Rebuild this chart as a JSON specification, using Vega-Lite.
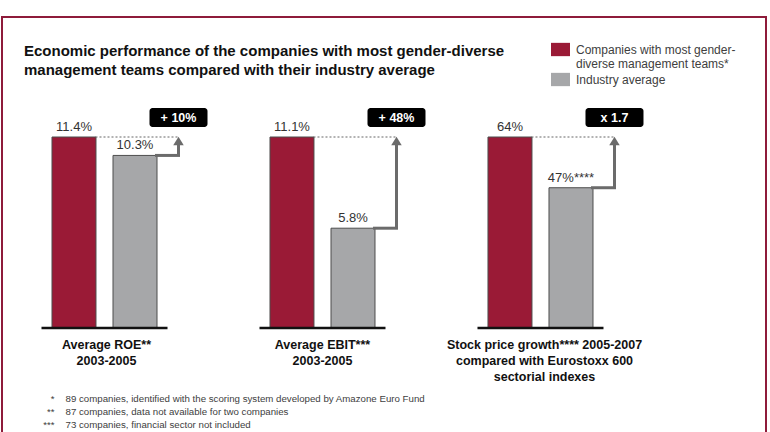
{
  "$schema": "https://vega.github.io/schema/vega-lite/v6.json",
  "width": 770,
  "height": 432,
  "autosize": {"type": "fit", "contains": "padding"},
  "padding": {"left": 2, "top": 17, "right": 4, "bottom": -6},
  "background": "white",
  "config": {
    "view": {"stroke": "#8e1b3a", "strokeWidth": 2},
    "font": "Liberation Sans",
    "text": {"font": "Liberation Sans"}
  },
  "title": {
    "text": ["Economic performance of the companies with most gender-diverse", "management teams compared with their industry average"],
    "anchor": "start",
    "frame": "group",
    "orient": "top",
    "offset": -61,
    "baseline": "top",
    "dx": 22,
    "fontSize": 15,
    "fontWeight": "bold",
    "color": "#111111",
    "font": "Liberation Sans",
    "lineHeight": 19
  },
  "data": {
    "values": [
      {"panel": "ROE", "kind": "bar", "series": "Companies with most gender-diverse management teams*", "value": 11.4, "label": "11.4%"},
      {"panel": "ROE", "kind": "bar", "series": "Industry average", "value": 10.3, "label": "10.3%"},
      {"panel": "EBIT", "kind": "bar", "series": "Companies with most gender-diverse management teams*", "value": 11.1, "label": "11.1%"},
      {"panel": "EBIT", "kind": "bar", "series": "Industry average", "value": 5.8, "label": "5.8%"},
      {"panel": "Stock", "kind": "bar", "series": "Companies with most gender-diverse management teams*", "value": 64, "label": "64%"},
      {"panel": "Stock", "kind": "bar", "series": "Industry average", "value": 47, "label": "47%****"},
      {"panel": "ROE", "kind": "gap", "company": 11.4, "industry": 10.3, "badge": "+ 10%", "caption": "Average ROE**\n2003-2005"},
      {"panel": "EBIT", "kind": "gap", "company": 11.1, "industry": 5.8, "badge": "+ 48%", "caption": "Average EBIT***\n2003-2005"},
      {"panel": "Stock", "kind": "gap", "company": 64, "industry": 47, "badge": "x 1.7", "caption": "Stock price growth**** 2005-2007\ncompared with Eurostoxx 600\nsectorial indexes"}
    ]
  },
  "layer": [
    {
      "transform": [{"filter": "datum.panel == 'ROE'"}],
      "layer": [
        {
          "transform": [{"filter": "datum.kind == 'bar'"}],
          "mark": {"type": "bar", "stroke": "#4d4d4d", "strokeWidth": 1},
          "encoding": {
            "x": {"field": "panel", "type": "nominal", "axis": null, "scale": {"domain": ["ROE", "EBIT", "Stock"], "paddingInner": 0.5183, "paddingOuter": 0.5115, "align": 0.2242}},
            "xOffset": {"field": "series", "type": "nominal", "scale": {"domain": ["Companies with most gender-diverse management teams*", "Industry average"], "paddingInner": 0.279, "paddingOuter": 0}},
            "y": {"field": "value", "type": "quantitative", "axis": null, "scale": {"range": [311, 120], "nice": false, "zero": true}},
            "color": {
              "field": "series", "type": "nominal",
              "scale": {"domain": ["Companies with most gender-diverse management teams*", "Industry average"], "range": ["#9a1a36", "#a6a7a9"]},
              "legend": {
                "orient": "none", "legendX": 549, "legendY": 23, "title": null,
                "symbolType": "M-1,-0.7L1,-0.7L1,0.7L-1,0.7Z", "symbolSize": 361,
                "symbolStrokeWidth": 0, "symbolOpacity": 1,
                "labelFontSize": 12, "labelFont": "Liberation Sans", "labelColor": "#404040",
                "labelExpr": "datum.label == 'Industry average' ? datum.label : ['Companies with most gender-', 'diverse management teams*']",
                "labelOffset": 6, "rowPadding": -6, "labelLimit": 300
              }
            }
          }
        },
        {
          "transform": [{"filter": "datum.kind == 'bar'"}],
          "mark": {"type": "text", "fontSize": 13, "color": "#333333", "baseline": "alphabetic", "yOffset": -6},
          "encoding": {
            "x": {"field": "panel", "type": "nominal", "axis": null, "scale": {"domain": ["ROE", "EBIT", "Stock"], "paddingInner": 0.5183, "paddingOuter": 0.5115, "align": 0.2242}},
            "xOffset": {"field": "series", "type": "nominal", "scale": {"domain": ["Companies with most gender-diverse management teams*", "Industry average"], "paddingInner": 0.279, "paddingOuter": 0}},
            "y": {"field": "value", "type": "quantitative"},
            "text": {"field": "label"}
          }
        },
        {
          "transform": [{"filter": "datum.kind == 'gap'"}],
          "encoding": {
            "x": {"field": "panel", "type": "nominal", "axis": null, "bandPosition": 0.5, "scale": {"domain": ["ROE", "EBIT", "Stock"], "paddingInner": 0.5183, "paddingOuter": 0.5115, "align": 0.2242}}
          },
          "layer": [
            {"mark": {"type": "rule", "color": "#111111", "strokeWidth": 2.5, "xOffset": -63, "x2Offset": 63}, "encoding": {"x2": {"field": "panel"}, "y": {"datum": 0, "type": "quantitative"}}},
            {"mark": {"type": "rule", "color": "#666666", "strokeWidth": 1, "strokeDash": [2, 2], "xOffset": -9, "x2Offset": 74}, "encoding": {"x2": {"field": "panel"}, "y": {"field": "company", "type": "quantitative"}}},
            {"mark": {"type": "rule", "color": "#6b6b6b", "strokeWidth": 3, "xOffset": 52, "x2Offset": 74, "strokeCap": "square"}, "encoding": {"x2": {"field": "panel"}, "y": {"field": "industry", "type": "quantitative"}}},
            {"mark": {"type": "rule", "color": "#6b6b6b", "strokeWidth": 3, "xOffset": 74, "y2Offset": 6}, "encoding": {"y": {"field": "industry", "type": "quantitative"}, "y2": {"field": "company"}}},
            {"mark": {"type": "point", "shape": "M0,-1L1,0.6L-1,0.6Z", "filled": true, "opacity": 1, "color": "#6b6b6b", "size": 110, "xOffset": 74, "yOffset": 5}, "encoding": {"y": {"field": "company", "type": "quantitative"}}},
            {"mark": {"type": "rect", "color": "#000000", "cornerRadius": 3, "xOffset": 45, "x2Offset": 103, "yOffset": -29, "y2Offset": -10}, "encoding": {"x2": {"field": "panel"}, "y": {"field": "company", "type": "quantitative"}, "y2": {"field": "company"}}},
            {"mark": {"type": "text", "color": "white", "fontWeight": "bold", "fontSize": 12.5, "baseline": "middle", "xOffset": 74, "yOffset": -19.5}, "encoding": {"y": {"field": "company", "type": "quantitative"}, "text": {"field": "badge"}}},
            {"mark": {"type": "text", "color": "#111111", "fontWeight": "bold", "fontSize": 12.5, "baseline": "top", "lineBreak": "\n", "lineHeight": 16, "xOffset": 2, "yOffset": 11}, "encoding": {"y": {"datum": 0, "type": "quantitative"}, "text": {"field": "caption"}}}
          ]
        }
      ]
    },
    {
      "transform": [{"filter": "datum.panel == 'EBIT'"}],
      "layer": [
        {
          "transform": [{"filter": "datum.kind == 'bar'"}],
          "mark": {"type": "bar", "stroke": "#4d4d4d", "strokeWidth": 1},
          "encoding": {
            "x": {"field": "panel", "type": "nominal", "axis": null, "scale": {"domain": ["ROE", "EBIT", "Stock"], "paddingInner": 0.5183, "paddingOuter": 0.5115, "align": 0.2242}},
            "xOffset": {"field": "series", "type": "nominal", "scale": {"domain": ["Companies with most gender-diverse management teams*", "Industry average"], "paddingInner": 0.279, "paddingOuter": 0}},
            "y": {"field": "value", "type": "quantitative", "axis": null, "scale": {"range": [311, 120], "nice": false, "zero": true}},
            "color": {"field": "series", "type": "nominal"}
          }
        },
        {
          "transform": [{"filter": "datum.kind == 'bar'"}],
          "mark": {"type": "text", "fontSize": 13, "color": "#333333", "baseline": "alphabetic", "yOffset": -6},
          "encoding": {
            "x": {"field": "panel", "type": "nominal", "axis": null, "scale": {"domain": ["ROE", "EBIT", "Stock"], "paddingInner": 0.5183, "paddingOuter": 0.5115, "align": 0.2242}},
            "xOffset": {"field": "series", "type": "nominal", "scale": {"domain": ["Companies with most gender-diverse management teams*", "Industry average"], "paddingInner": 0.279, "paddingOuter": 0}},
            "y": {"field": "value", "type": "quantitative"},
            "text": {"field": "label"}
          }
        },
        {
          "transform": [{"filter": "datum.kind == 'gap'"}],
          "encoding": {
            "x": {"field": "panel", "type": "nominal", "axis": null, "bandPosition": 0.5, "scale": {"domain": ["ROE", "EBIT", "Stock"], "paddingInner": 0.5183, "paddingOuter": 0.5115, "align": 0.2242}}
          },
          "layer": [
            {"mark": {"type": "rule", "color": "#111111", "strokeWidth": 2.5, "xOffset": -63, "x2Offset": 63}, "encoding": {"x2": {"field": "panel"}, "y": {"datum": 0, "type": "quantitative"}}},
            {"mark": {"type": "rule", "color": "#666666", "strokeWidth": 1, "strokeDash": [2, 2], "xOffset": -9, "x2Offset": 74}, "encoding": {"x2": {"field": "panel"}, "y": {"field": "company", "type": "quantitative"}}},
            {"mark": {"type": "rule", "color": "#6b6b6b", "strokeWidth": 3, "xOffset": 52, "x2Offset": 74, "strokeCap": "square"}, "encoding": {"x2": {"field": "panel"}, "y": {"field": "industry", "type": "quantitative"}}},
            {"mark": {"type": "rule", "color": "#6b6b6b", "strokeWidth": 3, "xOffset": 74, "y2Offset": 6}, "encoding": {"y": {"field": "industry", "type": "quantitative"}, "y2": {"field": "company"}}},
            {"mark": {"type": "point", "shape": "M0,-1L1,0.6L-1,0.6Z", "filled": true, "opacity": 1, "color": "#6b6b6b", "size": 110, "xOffset": 74, "yOffset": 5}, "encoding": {"y": {"field": "company", "type": "quantitative"}}},
            {"mark": {"type": "rect", "color": "#000000", "cornerRadius": 3, "xOffset": 45, "x2Offset": 103, "yOffset": -29, "y2Offset": -10}, "encoding": {"x2": {"field": "panel"}, "y": {"field": "company", "type": "quantitative"}, "y2": {"field": "company"}}},
            {"mark": {"type": "text", "color": "white", "fontWeight": "bold", "fontSize": 12.5, "baseline": "middle", "xOffset": 74, "yOffset": -19.5}, "encoding": {"y": {"field": "company", "type": "quantitative"}, "text": {"field": "badge"}}},
            {"mark": {"type": "text", "color": "#111111", "fontWeight": "bold", "fontSize": 12.5, "baseline": "top", "lineBreak": "\n", "lineHeight": 16, "xOffset": 0, "yOffset": 11}, "encoding": {"y": {"datum": 0, "type": "quantitative"}, "text": {"field": "caption"}}}
          ]
        }
      ]
    },
    {
      "transform": [{"filter": "datum.panel == 'Stock'"}],
      "layer": [
        {
          "transform": [{"filter": "datum.kind == 'bar'"}],
          "mark": {"type": "bar", "stroke": "#4d4d4d", "strokeWidth": 1},
          "encoding": {
            "x": {"field": "panel", "type": "nominal", "axis": null, "scale": {"domain": ["ROE", "EBIT", "Stock"], "paddingInner": 0.5183, "paddingOuter": 0.5115, "align": 0.2242}},
            "xOffset": {"field": "series", "type": "nominal", "scale": {"domain": ["Companies with most gender-diverse management teams*", "Industry average"], "paddingInner": 0.279, "paddingOuter": 0}},
            "y": {"field": "value", "type": "quantitative", "axis": null, "scale": {"range": [311, 120], "nice": false, "zero": true}},
            "color": {"field": "series", "type": "nominal"}
          }
        },
        {
          "transform": [{"filter": "datum.kind == 'bar'"}],
          "mark": {"type": "text", "fontSize": 13, "color": "#333333", "baseline": "alphabetic", "yOffset": -6},
          "encoding": {
            "x": {"field": "panel", "type": "nominal", "axis": null, "scale": {"domain": ["ROE", "EBIT", "Stock"], "paddingInner": 0.5183, "paddingOuter": 0.5115, "align": 0.2242}},
            "xOffset": {"field": "series", "type": "nominal", "scale": {"domain": ["Companies with most gender-diverse management teams*", "Industry average"], "paddingInner": 0.279, "paddingOuter": 0}},
            "y": {"field": "value", "type": "quantitative"},
            "text": {"field": "label"}
          }
        },
        {
          "transform": [{"filter": "datum.kind == 'gap'"}],
          "encoding": {
            "x": {"field": "panel", "type": "nominal", "axis": null, "bandPosition": 0.5, "scale": {"domain": ["ROE", "EBIT", "Stock"], "paddingInner": 0.5183, "paddingOuter": 0.5115, "align": 0.2242}}
          },
          "layer": [
            {"mark": {"type": "rule", "color": "#111111", "strokeWidth": 2.5, "xOffset": -63, "x2Offset": 63}, "encoding": {"x2": {"field": "panel"}, "y": {"datum": 0, "type": "quantitative"}}},
            {"mark": {"type": "rule", "color": "#666666", "strokeWidth": 1, "strokeDash": [2, 2], "xOffset": -9, "x2Offset": 74}, "encoding": {"x2": {"field": "panel"}, "y": {"field": "company", "type": "quantitative"}}},
            {"mark": {"type": "rule", "color": "#6b6b6b", "strokeWidth": 3, "xOffset": 52, "x2Offset": 74, "strokeCap": "square"}, "encoding": {"x2": {"field": "panel"}, "y": {"field": "industry", "type": "quantitative"}}},
            {"mark": {"type": "rule", "color": "#6b6b6b", "strokeWidth": 3, "xOffset": 74, "y2Offset": 6}, "encoding": {"y": {"field": "industry", "type": "quantitative"}, "y2": {"field": "company"}}},
            {"mark": {"type": "point", "shape": "M0,-1L1,0.6L-1,0.6Z", "filled": true, "opacity": 1, "color": "#6b6b6b", "size": 110, "xOffset": 74, "yOffset": 5}, "encoding": {"y": {"field": "company", "type": "quantitative"}}},
            {"mark": {"type": "rect", "color": "#000000", "cornerRadius": 3, "xOffset": 45, "x2Offset": 103, "yOffset": -29, "y2Offset": -10}, "encoding": {"x2": {"field": "panel"}, "y": {"field": "company", "type": "quantitative"}, "y2": {"field": "company"}}},
            {"mark": {"type": "text", "color": "white", "fontWeight": "bold", "fontSize": 12.5, "baseline": "middle", "xOffset": 74, "yOffset": -19.5}, "encoding": {"y": {"field": "company", "type": "quantitative"}, "text": {"field": "badge"}}},
            {"mark": {"type": "text", "color": "#111111", "fontWeight": "bold", "fontSize": 12.5, "baseline": "top", "lineBreak": "\n", "lineHeight": 16, "xOffset": 4, "yOffset": 11}, "encoding": {"y": {"datum": 0, "type": "quantitative"}, "text": {"field": "caption"}}}
          ]
        }
      ]
    },
    {
      "data": {
        "values": [
          {"n": 1, "star": "*", "note": "89 companies, identified with the scoring system developed by Amazone Euro Fund"},
          {"n": 2, "star": "**", "note": "87 companies, data not available for two companies"},
          {"n": 3, "star": "***", "note": "73  companies, financial sector not included"}
        ]
      },
      "encoding": {
        "x": {"datum": "ROE", "type": "nominal", "axis": null, "bandPosition": 0.5, "scale": {"domain": ["ROE", "EBIT", "Stock"], "paddingInner": 0.5183, "paddingOuter": 0.5115, "align": 0.2242}},
        "y": {"field": "n", "type": "ordinal", "axis": null, "scale": {"type": "point", "range": [382, 408], "padding": 0}}
      },
      "layer": [
        {"mark": {"type": "text", "align": "right", "baseline": "middle", "fontSize": 9.7, "color": "#404040", "xOffset": -50}, "encoding": {"text": {"field": "star"}}},
        {"mark": {"type": "text", "align": "left", "baseline": "middle", "fontSize": 9.7, "color": "#404040", "xOffset": -39}, "encoding": {"text": {"field": "note"}}}
      ]
    }
  ],
  "resolve": {"scale": {"y": "independent"}}
}
